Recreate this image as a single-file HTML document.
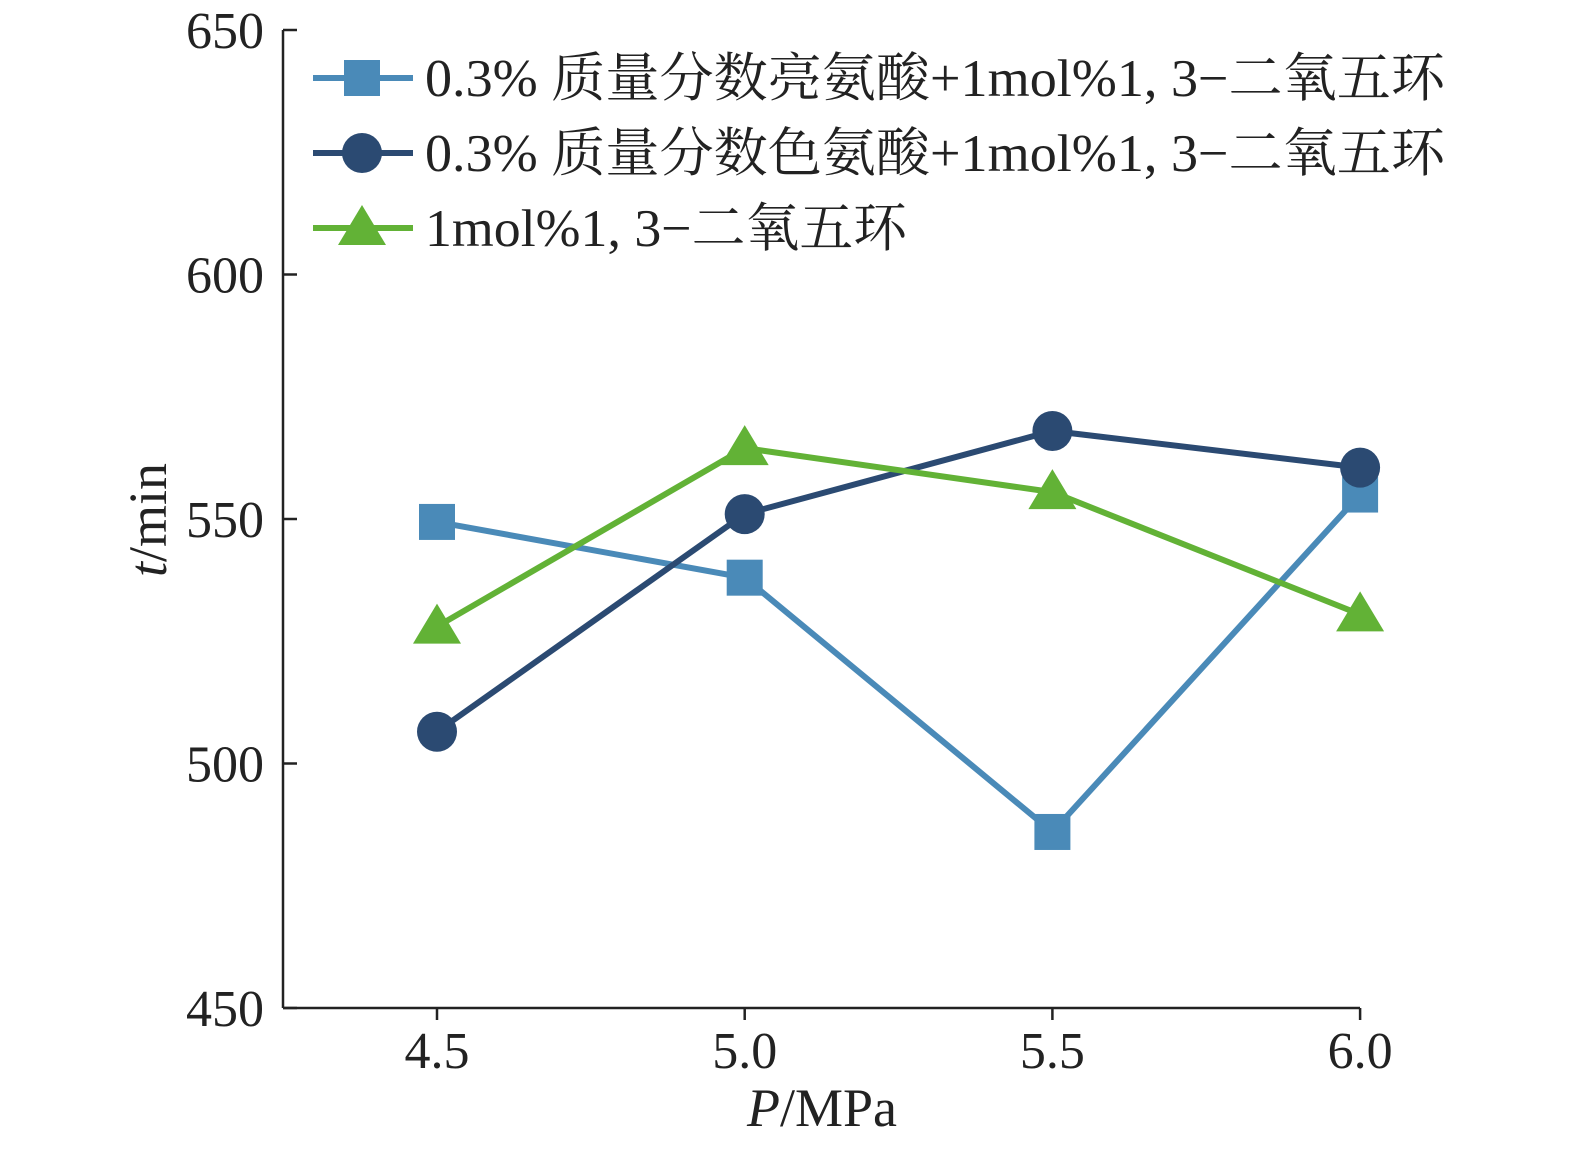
<!DOCTYPE html>
<html><head><meta charset="utf-8"><style>
body{margin:0;background:#fff}
svg text{font-family:"Liberation Serif","Noto Serif CJK SC",serif;fill:#222}
</style></head><body>
<svg width="1575" height="1148" viewBox="0 0 1575 1148" id="c"></svg>
<script>
const categories=[4.5,5.0,5.5,6.0];
const xTickLabels=["4.5","5.0","5.5","6.0"];
const yTickValues=[450,500,550,600,650];
const leucineSeries=[549.4,538,486,555];
const tryptophanSeries=[506.5,551,568,560.5];
const dioxolaneSeries=[528,564.5,555.5,530.5];
const seriesNames=["0.3% 质量分数亮氨酸+1mol%1, 3−二氧五环","0.3% 质量分数色氨酸+1mol%1, 3−二氧五环","1mol%1, 3−二氧五环"];
const NS="http://www.w3.org/2000/svg";
const svg=document.getElementById('c');
const x=v=>437+(v-4.5)/0.5*307.7;
const y=v=>1008-(v-450)/200*978;
function mk(t,a,p){const e=document.createElementNS(NS,t);for(const k in a)e.setAttribute(k,a[k]);(p||svg).appendChild(e);return e;}
let e;
e=mk('line',{x1:283,y1:30,x2:283,y2:1008,stroke:'#222','stroke-width':2.5});


e=mk('line',{x1:283,y1:1008,x2:1360,y2:1008,stroke:'#222','stroke-width':2.5});


yTickValues.forEach(v=>{
 e=mk('line',{x1:283,y1:y(v),x2:297,y2:y(v),stroke:'#222','stroke-width':2.5});
 
 
 e=mk('text',{x:264,y:y(v)+18,'text-anchor':'end','font-size':52});
 e.textContent=v;
 
 
});
categories.forEach((c,i)=>{
 e=mk('line',{x1:x(c),y1:1008,x2:x(c),y2:1020,stroke:'#222','stroke-width':2.5});
 
 
 e=mk('text',{x:x(c),y:1068,'text-anchor':'middle','font-size':52});
 e.textContent=xTickLabels[i];
 
 
});
e=mk('text',{x:0,y:0,'font-size':54,transform:'translate(166,520) rotate(-90)','text-anchor':'middle'});
e.innerHTML='<tspan font-style="italic">t</tspan>/min';


e=mk('text',{x:822,y:1126,'font-size':54,'text-anchor':'middle'});
e.innerHTML='<tspan font-style="italic">P</tspan>/MPa';


function marker(type,cx,cy,col,g){
 if(type==='sq')return mk('rect',{x:cx-18,y:cy-18,width:36,height:36,fill:col},g);
 if(type==='ci')return mk('circle',{cx:cx,cy:cy,r:20,fill:col},g);
 return mk('polygon',{points:`${cx},${cy-23} ${cx+24},${cy+17} ${cx-24},${cy+17}`,fill:col},g);
}
const series=[[leucineSeries,'#4a8ab8','sq','leucine'],[tryptophanSeries,'#2b4a72','ci','tryptophan'],[dioxolaneSeries,'#62b236','tr','dioxolane']];
series.forEach((s,si)=>{
 const g=mk('g',{});
 
 
 e=mk('polyline',{points:s[0].map((v,i)=>x(categories[i])+','+y(v)).join(' '),fill:'none',stroke:s[1],'stroke-width':6},g);
 
 
 s[0].forEach((v,i)=>{
  e=marker(s[2],x(categories[i]),y(v),s[1],g);
  
  
 });
 const ly=78+si*75;
 const lg=mk('g',{});
 
 
 mk('line',{x1:313,y1:ly,x2:413,y2:ly,stroke:s[1],'stroke-width':6},lg);
 marker(s[2],362,ly,s[1],lg);
 e=mk('text',{x:425,y:ly+18,'font-size':53,textLength:si<2?1020:482,lengthAdjust:'spacingAndGlyphs'},lg);
 e.textContent=seriesNames[si];
});
</script>
</body></html>
